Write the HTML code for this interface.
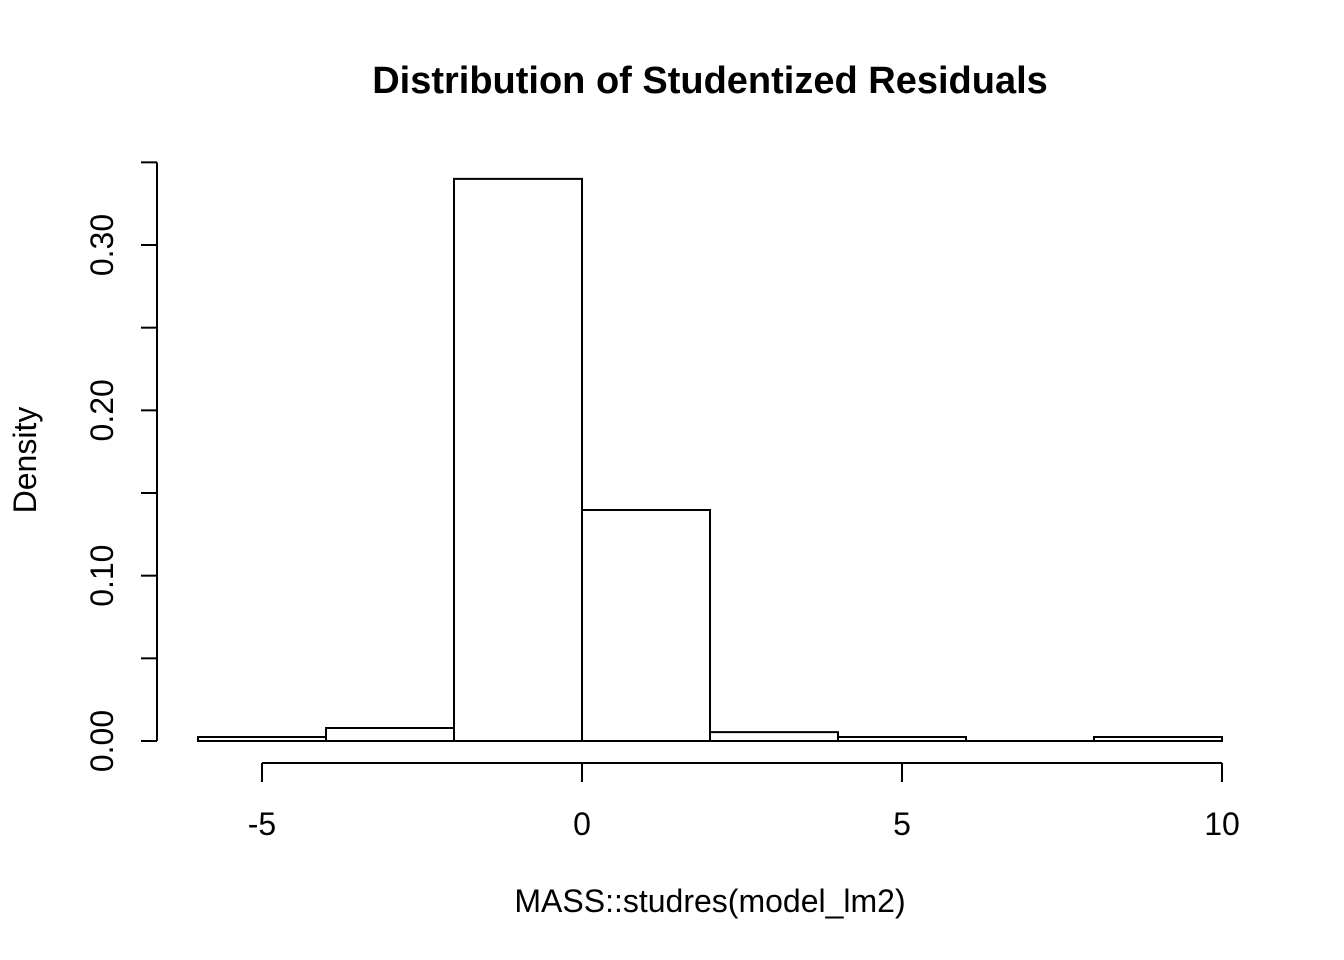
<!DOCTYPE html>
<html><head><meta charset="utf-8"><style>
body{margin:0;background:#fff}
svg{display:block;font-family:"Liberation Sans",Arial,sans-serif}
</style></head><body>
<svg id="chart" width="1344" height="960" viewBox="0 0 1344 960">
<text x="710" y="93" text-anchor="middle" font-size="38" font-weight="bold">Distribution of Studentized Residuals</text>
<text x="710" y="912" text-anchor="middle" font-size="32">MASS::studres(model_lm2)</text>
<text transform="translate(36,460) rotate(-90)" text-anchor="middle" font-size="32">Density</text>
<g id="bars"></g><g id="xaxis"></g><g id="yaxis"></g>
</svg>
<script>
const binEdges=[-6,-4,-2,0,2,4,6,8,10];
const densities=[0.0024,0.0079,0.340,0.1397,0.0054,0.0024,0,0.0024];
const xTicks=[-5,0,5,10];
const yTicks=[0,0.05,0.10,0.15,0.20,0.25,0.30,0.35];
const yLabels=["0.00","","0.10","","0.20","","0.30",""];
const NS="http://www.w3.org/2000/svg";
const X=v=>582+v*64, Y=v=>741-v*1653.3;
function mk(t,a,p){const e=document.createElementNS(NS,t);for(const k in a)e.setAttribute(k,a[k]);p.appendChild(e);return e;}
const bars=document.getElementById('bars');
densities.forEach((d,i)=>{const x0=X(binEdges[i]),x1=X(binEdges[i+1]),y=Y(d);
const r=mk('path',{d:`M${x0},741V${y}H${x1}V741Z`,fill:'none',stroke:'#000','stroke-width':2},bars);

});
const xa=document.getElementById('xaxis');
const xl=mk('line',{x1:X(xTicks[0]),x2:X(xTicks[xTicks.length-1]),y1:763,y2:763,stroke:'#000','stroke-width':2},xa);


xTicks.forEach(v=>{mk('line',{x1:X(v),x2:X(v),y1:763,y2:782,stroke:'#000','stroke-width':2},xa);
const t=mk('text',{x:X(v),y:835,'text-anchor':'middle','font-size':32},xa);t.textContent=v;

});
const ya=document.getElementById('yaxis');
const yl=mk('line',{x1:157,x2:157,y1:Y(yTicks[0]),y2:Y(yTicks[yTicks.length-1]),stroke:'#000','stroke-width':2},ya);


yTicks.forEach((v,i)=>{mk('line',{x1:141,x2:157,y1:Y(v),y2:Y(v),stroke:'#000','stroke-width':2},ya);
if(yLabels[i]){const t=mk('text',{transform:`translate(113,${Y(v)}) rotate(-90)`,'text-anchor':'middle','font-size':32},ya);t.textContent=yLabels[i];

}});
</script>
</body></html>
